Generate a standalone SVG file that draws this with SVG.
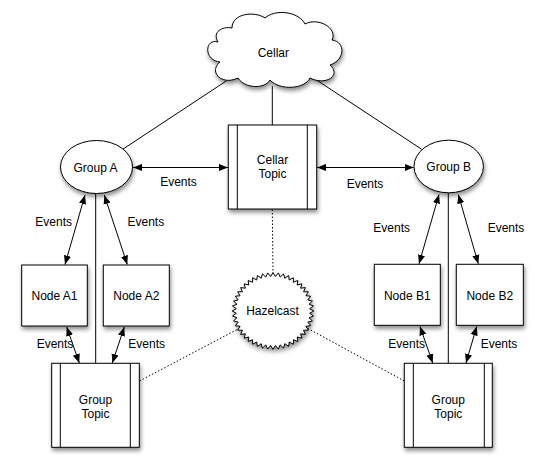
<svg xmlns="http://www.w3.org/2000/svg" xmlns:xlink="http://www.w3.org/1999/xlink" width="543" height="472" viewBox="0 0 543 472">
<style>
.s{fill:#fff;stroke:#000;stroke-width:1}
.t{font-family:"Liberation Sans",Arial,sans-serif;font-size:12px;fill:#000;text-anchor:middle}
.c{fill:none;stroke:#000;stroke-width:1}
.d{fill:none;stroke:#000;stroke-width:1;stroke-dasharray:1.5,2}
.a{fill:none;stroke:#000;stroke-width:1;marker-start:url(#ar);marker-end:url(#ar)}
</style>
<defs>
<filter id="sh" x="-20%" y="-20%" width="150%" height="150%">
<feDropShadow dx="1" dy="3" stdDeviation="2" flood-color="#000" flood-opacity="0.45"/>
</filter>
<marker id="ar" viewBox="0 0 10 10" refX="10" refY="5" markerWidth="9" markerHeight="9" markerUnits="userSpaceOnUse" orient="auto-start-reverse">
<path d="M0,1 L10,5 L0,9 Z" fill="#000"/>
</marker>
<path id="tooth" d="M35.92,-2.354 L40,0 L35.92,2.354" fill="#fff" stroke="#000" stroke-width="1" vector-effect="non-scaling-stroke"/>
</defs>
<rect width="543" height="472" fill="#fff"/>
<g id="connectors">
<line class="c" x1="226.7" y1="80.7" x2="122.7" y2="149.3"/>
<line class="c" x1="315" y1="79" x2="421.7" y2="149.3"/>
<line class="c" x1="272.3" y1="86" x2="272.3" y2="125"/>
<line class="c" x1="95.7" y1="193.3" x2="95.7" y2="363.3"/>
<line class="c" x1="448.3" y1="192.7" x2="448.3" y2="363.3"/>
<line class="a" x1="133" y1="167.5" x2="228" y2="167.5"/>
<line class="a" x1="317" y1="167.5" x2="413.5" y2="167.5"/>
<line class="a" x1="85" y1="195" x2="65" y2="264.5"/>
<line class="a" x1="104.3" y1="195" x2="127.3" y2="264.5"/>
<line class="a" x1="439" y1="194.5" x2="419" y2="263.8"/>
<line class="a" x1="458.3" y1="194.5" x2="478.3" y2="263.8"/>
<line class="a" x1="66.7" y1="327" x2="79.3" y2="363"/>
<line class="a" x1="124.3" y1="327" x2="112.3" y2="363"/>
<line class="a" x1="420" y1="326.5" x2="432.7" y2="363"/>
<line class="a" x1="476.7" y1="326.5" x2="466" y2="363"/>
<line class="d" x1="272.3" y1="209.5" x2="273" y2="273"/>
<line class="d" x1="139.5" y1="381" x2="240" y2="328"/>
<line class="d" x1="404.3" y1="381" x2="307" y2="328"/>
<text class="t" x="178.5" y="185.5">Events</text>
<text class="t" x="365" y="187.5">Events</text>
<text class="t" x="53.7" y="226">Events</text>
<text class="t" x="145.8" y="225.5">Events</text>
<text class="t" x="391.7" y="232">Events</text>
<text class="t" x="506" y="232">Events</text>
<text class="t" x="55" y="348">Events</text>
<text class="t" x="146.7" y="348">Events</text>
<text class="t" x="406.7" y="348">Events</text>
<text class="t" x="499" y="348">Events</text>
</g>
<g id="cellar">
<path class="s" filter="url(#sh)" d="M218,42 C205,38 203,60 220,62 C208,72 222,86 238,78 C245,89 265,89 270,80 C280,91 305,89 310,78 C325,86 342,76 330,65 C345,60 346,42 332,40 C338,28 318,17 305,24 C298,11 275,9 265,18 C255,11 232,13 232,28 C222,26 212,32 218,42 Z"/>
<text class="t" x="273.3" y="57">Cellar</text>
</g>
<g id="cellar-topic">
<rect class="s" filter="url(#sh)" x="228.3" y="125" width="88.4" height="84"/>
<line class="c" x1="237.3" y1="125" x2="237.3" y2="209"/>
<line class="c" x1="307.3" y1="125" x2="307.3" y2="209"/>
<text class="t" x="272.5" y="164">Cellar</text>
<text class="t" x="272.5" y="178">Topic</text>
</g>
<g id="group-a">
<ellipse class="s" filter="url(#sh)" cx="96.5" cy="167" rx="36" ry="26.5"/>
<text class="t" x="95.5" y="171.5">Group A</text>
</g>
<g id="group-b">
<ellipse class="s" filter="url(#sh)" cx="448.7" cy="166.5" rx="34.7" ry="26.3"/>
<text class="t" x="448.7" y="171">Group B</text>
</g>
<g id="node-a1">
<rect class="s" filter="url(#sh)" x="21.7" y="265" width="65.6" height="61"/>
<text class="t" x="54.5" y="300">Node A1</text>
</g>
<g id="node-a2">
<rect class="s" filter="url(#sh)" x="103.3" y="265" width="66" height="61"/>
<text class="t" x="136.3" y="300">Node A2</text>
</g>
<g id="node-b1">
<rect class="s" filter="url(#sh)" x="374.3" y="264.3" width="66" height="61"/>
<text class="t" x="407.3" y="299.5">Node B1</text>
</g>
<g id="node-b2">
<rect class="s" filter="url(#sh)" x="456.3" y="264.3" width="67" height="61"/>
<text class="t" x="489.8" y="299.5">Node B2</text>
</g>
<g id="group-topic-a">
<rect class="s" filter="url(#sh)" x="51.7" y="363.3" width="87.6" height="84"/>
<line class="c" x1="60.3" y1="363.3" x2="60.3" y2="447.3"/>
<line class="c" x1="130.3" y1="363.3" x2="130.3" y2="447.3"/>
<text class="t" x="95.5" y="403.5">Group</text>
<text class="t" x="95.5" y="418">Topic</text>
</g>
<g id="group-topic-b">
<rect class="s" filter="url(#sh)" x="404.3" y="363.3" width="88" height="84"/>
<line class="c" x1="413.3" y1="363.3" x2="413.3" y2="447.3"/>
<line class="c" x1="484.3" y1="363.3" x2="484.3" y2="447.3"/>
<text class="t" x="448.3" y="403.5">Group</text>
<text class="t" x="448.3" y="418">Topic</text>
</g>
<g id="hazelcast">
<g filter="url(#sh)">
<g transform="translate(273,311) scale(1.02,0.96)">
<circle r="36.2" fill="#fff"/>
<use xlink:href="#tooth" transform="rotate(0)"/><use xlink:href="#tooth" transform="rotate(7.5)"/><use xlink:href="#tooth" transform="rotate(15)"/><use xlink:href="#tooth" transform="rotate(22.5)"/>
<use xlink:href="#tooth" transform="rotate(30)"/><use xlink:href="#tooth" transform="rotate(37.5)"/><use xlink:href="#tooth" transform="rotate(45)"/><use xlink:href="#tooth" transform="rotate(52.5)"/>
<use xlink:href="#tooth" transform="rotate(60)"/><use xlink:href="#tooth" transform="rotate(67.5)"/><use xlink:href="#tooth" transform="rotate(75)"/><use xlink:href="#tooth" transform="rotate(82.5)"/>
<use xlink:href="#tooth" transform="rotate(90)"/><use xlink:href="#tooth" transform="rotate(97.5)"/><use xlink:href="#tooth" transform="rotate(105)"/><use xlink:href="#tooth" transform="rotate(112.5)"/>
<use xlink:href="#tooth" transform="rotate(120)"/><use xlink:href="#tooth" transform="rotate(127.5)"/><use xlink:href="#tooth" transform="rotate(135)"/><use xlink:href="#tooth" transform="rotate(142.5)"/>
<use xlink:href="#tooth" transform="rotate(150)"/><use xlink:href="#tooth" transform="rotate(157.5)"/><use xlink:href="#tooth" transform="rotate(165)"/><use xlink:href="#tooth" transform="rotate(172.5)"/>
<use xlink:href="#tooth" transform="rotate(180)"/><use xlink:href="#tooth" transform="rotate(187.5)"/><use xlink:href="#tooth" transform="rotate(195)"/><use xlink:href="#tooth" transform="rotate(202.5)"/>
<use xlink:href="#tooth" transform="rotate(210)"/><use xlink:href="#tooth" transform="rotate(217.5)"/><use xlink:href="#tooth" transform="rotate(225)"/><use xlink:href="#tooth" transform="rotate(232.5)"/>
<use xlink:href="#tooth" transform="rotate(240)"/><use xlink:href="#tooth" transform="rotate(247.5)"/><use xlink:href="#tooth" transform="rotate(255)"/><use xlink:href="#tooth" transform="rotate(262.5)"/>
<use xlink:href="#tooth" transform="rotate(270)"/><use xlink:href="#tooth" transform="rotate(277.5)"/><use xlink:href="#tooth" transform="rotate(285)"/><use xlink:href="#tooth" transform="rotate(292.5)"/>
<use xlink:href="#tooth" transform="rotate(300)"/><use xlink:href="#tooth" transform="rotate(307.5)"/><use xlink:href="#tooth" transform="rotate(315)"/><use xlink:href="#tooth" transform="rotate(322.5)"/>
<use xlink:href="#tooth" transform="rotate(330)"/><use xlink:href="#tooth" transform="rotate(337.5)"/><use xlink:href="#tooth" transform="rotate(345)"/><use xlink:href="#tooth" transform="rotate(352.5)"/>
</g>
</g>
<text class="t" x="272.5" y="315">Hazelcast</text>
</g>
</svg>
